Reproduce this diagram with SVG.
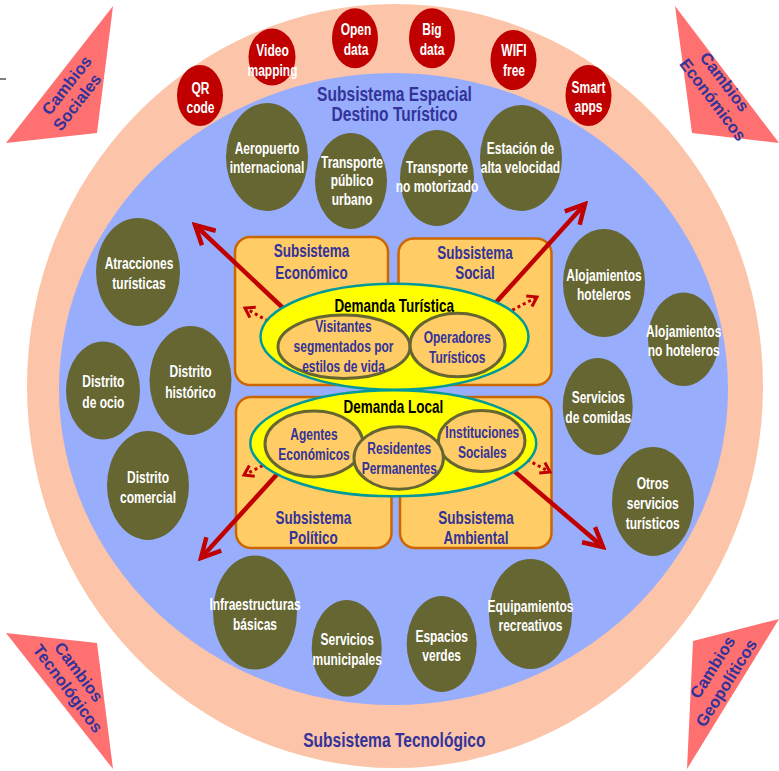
<svg xmlns="http://www.w3.org/2000/svg" width="779" height="771" viewBox="0 0 779 771">
<style>
text{font-family:"Liberation Sans",Arial,sans-serif;font-weight:bold;text-anchor:middle}
.w{font-size:16px;fill:#fff}
.n{font-size:16px;fill:#333399}
.s{font-size:18px;fill:#333399}
.d{font-size:18px;fill:#000}
.t{font-size:20.5px;fill:#333399}
.c{font-size:16.5px;fill:#333399}
.ol{fill:#666633}
.rc{fill:#C00000}
.bx{fill:#FFCC66;stroke:#CC6600;stroke-width:2.5}
.ye{fill:#FFFF00;stroke:#009999;stroke-width:2.5}
.in{fill:#FFCC66;stroke:#666633;stroke-width:3}
.tri{fill:#FF7070}
.ar{stroke:#C00000;stroke-width:4.5;fill:none;marker-end:url(#ah)}
.da{stroke:#C00000;stroke-width:3;fill:none;stroke-dasharray:3 3;marker-end:url(#sh)}
</style>
<defs>
<marker id="ah" viewBox="0 0 26 26" refX="22" refY="13" markerWidth="26" markerHeight="26" markerUnits="userSpaceOnUse" orient="auto">
<path d="M3,3 L22,13 L3,23" fill="none" stroke="#C00000" stroke-width="4.5"/>
</marker>
<marker id="sh" viewBox="0 0 16 16" refX="12" refY="8" markerWidth="16" markerHeight="16" markerUnits="userSpaceOnUse" orient="auto">
<path d="M3,2 L12,8 L3,14" fill="none" stroke="#C00000" stroke-width="3"/>
</marker>
</defs>
<rect width="779" height="771" fill="#fff"/>
<line x1="0" y1="79" x2="6" y2="79" stroke="#000" stroke-width="1"/>

<g id="subsistema-tecnologico">
<ellipse cx="395" cy="386" rx="368" ry="382" fill="#FCC4A8"/>
<text class="t" transform="translate(394.3,746.7) scale(.76 1)">Subsistema Tecnológico</text>
</g>
<g id="subsistema-espacial">
<ellipse cx="393.5" cy="389" rx="334.5" ry="316" fill="#98AEFD"/>
<text class="t" transform="translate(394.5,101.3) scale(.76 1)">Subsistema Espacial</text>
<text class="t" transform="translate(394.5,121) scale(.76 1)">Destino Turístico</text>
</g>

<g id="cambios-sociales"><polygon class="tri" points="113,6 6,143 97,133"/>
<text class="c" transform="translate(72.3,94) rotate(-52)"><tspan x="3.5" y="-4">Cambios</tspan><tspan x="-3.5" y="14.5">Sociales</tspan></text></g>
<g id="cambios-economicos"><polygon class="tri" points="675,6 692,133 779,143"/>
<text class="c" transform="translate(718.2,91.2) rotate(53)"><tspan x="-3.6" y="-5">Cambios</tspan><tspan x="3.6" y="15">Económicos</tspan></text></g>
<g id="cambios-tecnologicos"><polygon class="tri" points="6,633 97,643 113,769"/>
<text class="c" transform="translate(72.8,680.7) rotate(53.4)"><tspan x="-3.4" y="-4.4">Cambios</tspan><tspan x="3.4" y="14.4">Tecnológicos</tspan></text></g>
<g id="cambios-geopoliticos"><polygon class="tri" points="693,641 779,619 687,769"/>
<text class="c" transform="translate(720,675.5) rotate(-57.8)"><tspan x="3" y="-5">Cambios</tspan><tspan x="-3" y="15">Geopolíticos</tspan></text></g>

<g id="qr-code"><ellipse class="rc" cx="200" cy="95.5" rx="23" ry="30.5"/><text class="w" transform="translate(200.5,94) scale(.75 1)"><tspan x="0">QR</tspan><tspan x="0" dy="19">code</tspan></text></g>
<g id="video-mapping"><ellipse class="rc" cx="272" cy="57" rx="23.5" ry="28.5"/><text class="w" transform="translate(272.5,56) scale(.75 1)"><tspan x="0">Video</tspan><tspan x="0" dy="20">mapping</tspan></text></g>
<g id="open-data"><ellipse class="rc" cx="355" cy="38.3" rx="23" ry="30"/><text class="w" transform="translate(356,35.3) scale(.75 1)"><tspan x="0">Open</tspan><tspan x="0" dy="20">data</tspan></text></g>
<g id="big-data"><ellipse class="rc" cx="432" cy="38.3" rx="23" ry="30"/><text class="w" transform="translate(432,35.3) scale(.75 1)"><tspan x="0">Big</tspan><tspan x="0" dy="20">data</tspan></text></g>
<g id="wifi-free"><ellipse class="rc" cx="513.5" cy="60" rx="23" ry="30"/><text class="w" transform="translate(514,56) scale(.75 1)"><tspan x="0">WIFI</tspan><tspan x="0" dy="20">free</tspan></text></g>
<g id="smart-apps"><ellipse class="rc" cx="588.5" cy="95.5" rx="23" ry="30.5"/><text class="w" transform="translate(588.5,93) scale(.75 1)"><tspan x="0">Smart</tspan><tspan x="0" dy="19">apps</tspan></text></g>

<g id="aeropuerto"><ellipse class="ol" cx="267" cy="157" rx="41" ry="54"/><text class="w" transform="translate(267,154) scale(.75 1)"><tspan x="0">Aeropuerto</tspan><tspan x="0" dy="19">internacional</tspan></text></g>
<g id="transporte-publico"><ellipse class="ol" cx="351" cy="181" rx="36" ry="48"/><text class="w" transform="translate(352,168) scale(.75 1)"><tspan x="0">Transporte</tspan><tspan x="0" dy="18.5">público</tspan><tspan x="0" dy="18.5">urbano</tspan></text></g>
<g id="transporte-no-motorizado"><ellipse class="ol" cx="437" cy="178" rx="37" ry="48"/><text class="w" transform="translate(437,173) scale(.75 1)"><tspan x="0">Transporte</tspan><tspan x="0" dy="19">no motorizado</tspan></text></g>
<g id="estacion"><ellipse class="ol" cx="521" cy="158" rx="41" ry="53"/><text class="w" transform="translate(520.5,154) scale(.75 1)"><tspan x="0">Estación de</tspan><tspan x="0" dy="19">alta velocidad</tspan></text></g>
<g id="atracciones"><ellipse class="ol" cx="138" cy="272" rx="42" ry="54"/><text class="w" transform="translate(139,269) scale(.75 1)"><tspan x="0">Atracciones</tspan><tspan x="0" dy="20">turísticas</tspan></text></g>
<g id="distrito-ocio"><ellipse class="ol" cx="103" cy="390.5" rx="37" ry="49"/><text class="w" transform="translate(103.3,387) scale(.75 1)"><tspan x="0">Distrito</tspan><tspan x="0" dy="21">de ocio</tspan></text></g>
<g id="distrito-historico"><ellipse class="ol" cx="190.5" cy="380.5" rx="41" ry="54.5"/><text class="w" transform="translate(190.5,377) scale(.75 1)"><tspan x="0">Distrito</tspan><tspan x="0" dy="21">histórico</tspan></text></g>
<g id="distrito-comercial"><ellipse class="ol" cx="148" cy="485.5" rx="41" ry="54.5"/><text class="w" transform="translate(148,483) scale(.75 1)"><tspan x="0">Distrito</tspan><tspan x="0" dy="20">comercial</tspan></text></g>
<g id="alojamientos-hoteleros"><ellipse class="ol" cx="604" cy="283" rx="41" ry="54"/><text class="w" transform="translate(604,281) scale(.75 1)"><tspan x="0">Alojamientos</tspan><tspan x="0" dy="19">hoteleros</tspan></text></g>
<g id="alojamientos-no-hoteleros"><ellipse class="ol" cx="683.5" cy="339.3" rx="35.5" ry="46.7"/><text class="w" transform="translate(683.7,337) scale(.75 1)"><tspan x="0">Alojamientos</tspan><tspan x="0" dy="19">no hoteleros</tspan></text></g>
<g id="servicios-comidas"><ellipse class="ol" cx="597.7" cy="406.5" rx="35" ry="48.5"/><text class="w" transform="translate(598.3,403) scale(.75 1)"><tspan x="0">Servicios</tspan><tspan x="0" dy="20">de comidas</tspan></text></g>
<g id="otros-servicios"><ellipse class="ol" cx="653" cy="501.5" rx="41" ry="54.5"/><text class="w" transform="translate(652.7,488.5) scale(.75 1)"><tspan x="0">Otros</tspan><tspan x="0" dy="20.5">servicios</tspan><tspan x="0" dy="20.5">turísticos</tspan></text></g>
<g id="infraestructuras"><ellipse class="ol" cx="255" cy="612.5" rx="42" ry="57"/><text class="w" transform="translate(255,610) scale(.75 1)"><tspan x="0">Infraestructuras</tspan><tspan x="0" dy="20">básicas</tspan></text></g>
<g id="servicios-municipales"><ellipse class="ol" cx="346.7" cy="648.3" rx="35" ry="48.3"/><text class="w" transform="translate(347.2,645) scale(.75 1)"><tspan x="0">Servicios</tspan><tspan x="0" dy="20">municipales</tspan></text></g>
<g id="espacios-verdes"><ellipse class="ol" cx="441.7" cy="644" rx="35" ry="48"/><text class="w" transform="translate(441.7,641.7) scale(.75 1)"><tspan x="0">Espacios</tspan><tspan x="0" dy="19.5">verdes</tspan></text></g>
<g id="equipamientos"><ellipse class="ol" cx="530.5" cy="614" rx="41.5" ry="55"/><text class="w" transform="translate(530.5,611.7) scale(.75 1)"><tspan x="0">Equipamientos</tspan><tspan x="0" dy="19.5">recreativos</tspan></text></g>

<g id="subsistema-economico"><rect class="bx" x="235" y="237" width="153" height="148" rx="15"/><text class="s" transform="translate(311.5,257.3) scale(.75 1)"><tspan x="0">Subsistema</tspan><tspan x="0" dy="22">Económico</tspan></text></g>
<g id="subsistema-social"><rect class="bx" x="398.5" y="238.5" width="153" height="146.5" rx="15"/><text class="s" transform="translate(475,259.3) scale(.75 1)"><tspan x="0">Subsistema</tspan><tspan x="0" dy="20">Social</tspan></text></g>
<g id="subsistema-politico"><rect class="bx" x="236" y="397" width="155.5" height="151" rx="15"/><text class="s" transform="translate(313.3,524) scale(.75 1)"><tspan x="0">Subsistema</tspan><tspan x="0" dy="20">Político</tspan></text></g>
<g id="subsistema-ambiental"><rect class="bx" x="400" y="397" width="151.5" height="151" rx="15"/><text class="s" transform="translate(476,524) scale(.75 1)"><tspan x="0">Subsistema</tspan><tspan x="0" dy="20">Ambiental</tspan></text></g>

<g id="connectors">
<line class="ar" x1="300" y1="324" x2="195" y2="225"/>
<line class="ar" x1="480" y1="320" x2="585" y2="204"/>
<line class="ar" x1="290" y1="460" x2="201" y2="558"/>
<line class="ar" x1="500" y1="459" x2="603" y2="547"/>
<line class="da" x1="268" y1="321" x2="245" y2="308"/>
<line class="da" x1="507" y1="313" x2="537" y2="297"/>
<line class="da" x1="268" y1="463" x2="244" y2="475"/>
<line class="da" x1="522" y1="457" x2="550" y2="472"/>
</g>

<g id="demanda-turistica"><ellipse class="ye" cx="394.5" cy="336.7" rx="134" ry="53"/><text class="d" transform="translate(394.2,311.7) scale(.75 1)">Demanda Turística</text></g>
<g id="visitantes"><ellipse class="in" cx="344" cy="346.7" rx="66" ry="31.7"/><text class="n" transform="translate(343.5,331.7) scale(.75 1)"><tspan x="0">Visitantes</tspan><tspan x="0" dy="20">segmentados por</tspan><tspan x="0" dy="20">estilos de vida</tspan></text></g>
<g id="operadores"><ellipse class="in" cx="457.5" cy="345" rx="47.5" ry="31.7"/><text class="n" transform="translate(457.3,343.3) scale(.75 1)"><tspan x="0">Operadores</tspan><tspan x="0" dy="19.5">Turísticos</tspan></text></g>

<g id="demanda-local"><ellipse class="ye" cx="393.3" cy="443.3" rx="143" ry="53"/><text class="d" transform="translate(393.3,412.7) scale(.75 1)">Demanda Local</text></g>
<g id="agentes"><ellipse class="in" cx="314" cy="444" rx="49" ry="33"/><text class="n" transform="translate(314,440) scale(.75 1)"><tspan x="0">Agentes</tspan><tspan x="0" dy="20">Económicos</tspan></text></g>
<g id="instituciones"><ellipse class="in" cx="481.7" cy="441" rx="43.3" ry="30.5"/><text class="n" transform="translate(482.3,438.3) scale(.75 1)"><tspan x="0">Instituciones</tspan><tspan x="0" dy="20">Sociales</tspan></text></g>
<g id="residentes"><ellipse class="in" cx="398.7" cy="458" rx="44.7" ry="31.3"/><text class="n" transform="translate(399.3,454) scale(.75 1)"><tspan x="0">Residentes</tspan><tspan x="0" dy="20">Permanentes</tspan></text></g>
</svg>
